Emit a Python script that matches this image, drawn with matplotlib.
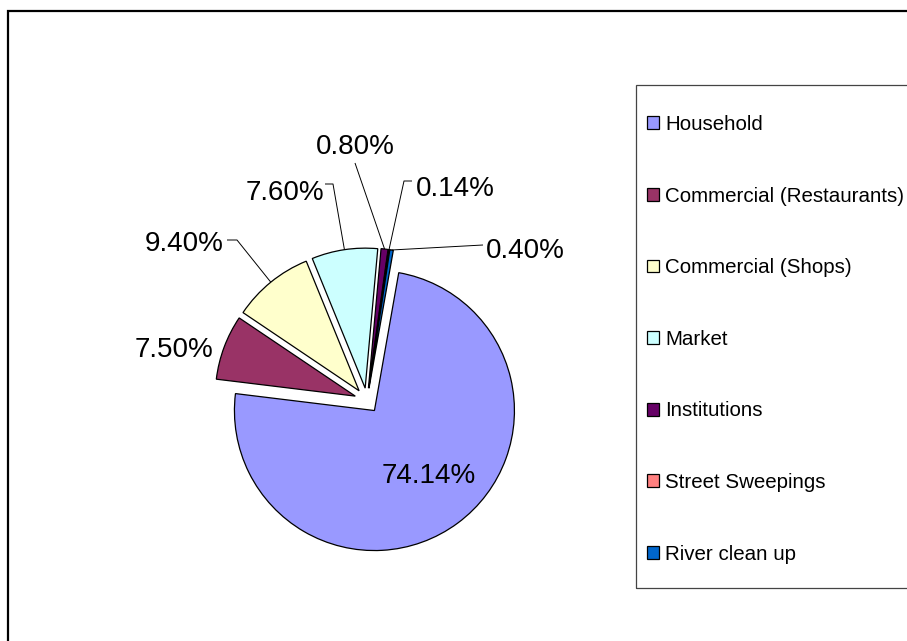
import numpy as np
import matplotlib
matplotlib.use("Agg")
import matplotlib.pyplot as plt
from matplotlib.patches import Rectangle

# Waste generation by source (% of total)
categories = [
    "Household",
    "Commercial (Restaurants)",
    "Commercial (Shops)",
    "Market",
    "Institutions",
    "Street Sweepings",
    "River clean up",
]
shares = [74.14, 7.50, 9.40, 7.60, 0.80, 0.14, 0.40]
colors = ["#9999FF", "#993366", "#FFFFCC", "#CCFFFF", "#660066", "#FF8080", "#0066CC"]

# Canvas geometry (pixels)
W, H = 907, 641
CX, CY, R = 367.0, 400.5, 140.0   # pie centre and radius
EXPLODE = 12.5 / R


def px(x, y):
    """Pixel position (origin top-left) -> pie data coordinates."""
    return (x - CX) / R, (CY - y) / R


# Label placement: text baseline-centre and leader-line points (pixels),
# leader points go from the text toward the slice.
label_layout = {
    "Household": ((428.5, 483), []),
    "Commercial (Restaurants)": ((174, 357), []),
    "Commercial (Shops)": ((184, 251), [(227, 240), (237, 240)]),
    "Market": ((285, 200), [(325, 184), (333, 184)]),
    "Institutions": ((355.5, 154), [(355, 163)]),
    "Street Sweepings": ((455.5, 196), [(412, 181), (404, 181)]),
    "River clean up": ((525, 258), [(483, 245)]),
}

fig = plt.figure(figsize=(W / 100, H / 100), dpi=100)
ax = fig.add_axes([0, 0, 1, 1])

wedges, _ = ax.pie(
    shares,
    colors=colors,
    explode=[EXPLODE] * len(shares),
    startangle=80,
    counterclock=False,
    radius=1.0,
    center=(0, 0),
    wedgeprops=dict(edgecolor="black", linewidth=0.9),
)

x0, y0 = px(0, H)
x1, y1 = px(W, 0)
ax.set_xlim(x0, x1)
ax.set_ylim(y0, y1)
ax.set_aspect("auto")
ax.axis("off")

label_font = dict(family="Liberation Sans", size=20, color="black")

for w, name, val in zip(wedges, categories, shares):
    (tx, ty), leader = label_layout[name]
    dx, dy = px(tx, ty)
    ax.text(dx, dy, f"{val:.2f}%", ha="center", va="baseline", **label_font)
    if leader:
        theta = np.deg2rad(0.5 * (w.theta1 + w.theta2))
        cx, cy = w.center
        ax_pt = (cx + w.r * np.cos(theta), cy + w.r * np.sin(theta))
        pts = [px(*p) for p in leader] + [ax_pt]
        xs, ys = zip(*pts)
        ax.plot(xs, ys, color="black", linewidth=0.7, solid_capstyle="butt")

# Outer chart border
fig.patches.append(Rectangle((8 / W, -0.05), 1.05, (H - 11) / H + 0.05,
                             transform=fig.transFigure, fill=False,
                             edgecolor="black", linewidth=1.6))

# Legend frame
leg_left, leg_top, leg_bottom = 636, 85, 588
fig.patches.append(Rectangle((leg_left / W, 1 - leg_bottom / H),
                             1.0, (leg_bottom - leg_top) / H,
                             transform=fig.transFigure, fill=False,
                             edgecolor="#444444", linewidth=0.9))

leg = fig.legend(
    wedges, categories,
    loc="upper left",
    bbox_to_anchor=(647 / W, 1 - 115 / H),
    frameon=False,
    borderpad=0,
    borderaxespad=0,
    prop=dict(family="Liberation Sans", size=14.8),
    handlelength=0.58,
    handleheight=0.58,
    handletextpad=0.3,
    labelspacing=2.56,
)

fig.savefig("out.png", dpi=100)
